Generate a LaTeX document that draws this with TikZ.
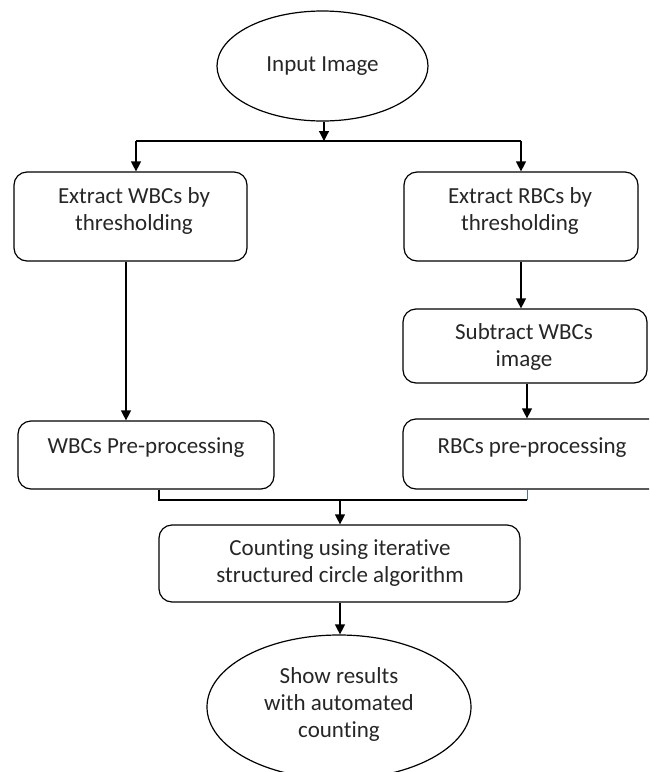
\documentclass[tikz,border=0pt]{standalone}
\usepackage{fontspec}
\setmainfont[RawFeature=-liga]{Carlito}
\usetikzlibrary{arrows.meta,shapes.geometric}
\definecolor{txtc}{HTML}{262626}
\definecolor{linkblue}{HTML}{4472C4}
\tikzset{
  box/.style={draw=black, line width=1.2pt, rounded corners=13pt, inner sep=0pt},
  oval/.style={draw=black, line width=1.2pt, ellipse, inner sep=0pt},
  txt/.style={text=txtc, align=center, font=\fontsize{23}{27}\selectfont, inner sep=0pt},
  conn/.style={draw=black, line width=1.2pt},
  arr/.style={conn, -{Triangle[length=10pt,width=10pt]}}
}
\begin{document}
\begin{tikzpicture}[x=1pt,y=-1pt]
\useasboundingbox (0,0) rectangle (649,772);
\clip (0,0) rectangle (649,772);
% shapes
\node[oval, minimum width=211pt, minimum height=110pt] (in) at (322.5,66) {};
\node[txt] (tin) at (322.5,66) {Input Image};

\node[box, minimum width=233pt, minimum height=89pt] (ew) at (130.5,216.5) {};
\node[txt] (tew) at (134,210.5) {Extract WBCs by\\thresholding};

\node[box, minimum width=234pt, minimum height=89pt] (er) at (521,216.5) {};
\node[txt] (ter) at (520,210.5) {Extract RBCs by\\thresholding};

\node[box, minimum width=244pt, minimum height=74pt] (sw) at (525,346) {};
\node[txt] (tsw) at (524,347) {Subtract WBCs\\image};

\node[box, minimum width=256pt, minimum height=68pt] (wp) at (146,455) {};
\node[txt] (twp) at (146,448) {WBCs Pre-processing};

\node[box, minimum width=277pt, minimum height=70pt] (rp) at (541.5,454) {};
\node[txt] (trp) at (532,448) {RBCs pre-processing};

\node[box, minimum width=361pt, minimum height=77pt] (cnt) at (339.5,563.5) {};
\node[txt] (tcnt) at (340,563) {Counting using iterative\\structured circle algorithm};

\node[oval, minimum width=264pt, minimum height=144pt] (out) at (339,707) {};
\node[txt] (tout) at (339,704.5) {Show results\\with automated\\counting};

% junction coordinates
\coordinate (jl) at (136,141);
\coordinate (jr) at (521,141);
\coordinate (jtop) at (324,141);
\coordinate (bl) at (159,500);
\coordinate (br) at (527,500);
\coordinate (bm) at (340,500);

% connectors
\draw[arr] (in.south -| jtop) -- (jtop);
\draw[conn] (jl) -- (jr);
\draw[arr] (jl) -- (jl |- ew.north);
\draw[arr] (jr) -- (jr |- er.north);
\draw[arr] (ew.south -| 126,0) -- (wp.north -| 126,0);
\draw[arr] (er.south -| 521,0) -- (sw.north -| 521,0);
\draw[arr] (sw.south -| br) -- (rp.north -| br);
\draw[conn] (wp.south -| bl) -- (bl) -- (br);
\draw[draw=linkblue, line width=1pt] (br) -- (rp.south -| br);
\draw[arr] (bm) -- (cnt.north -| bm);
\draw[arr] (cnt.south -| bm) -- (out.north -| bm);
\end{tikzpicture}
\end{document}
